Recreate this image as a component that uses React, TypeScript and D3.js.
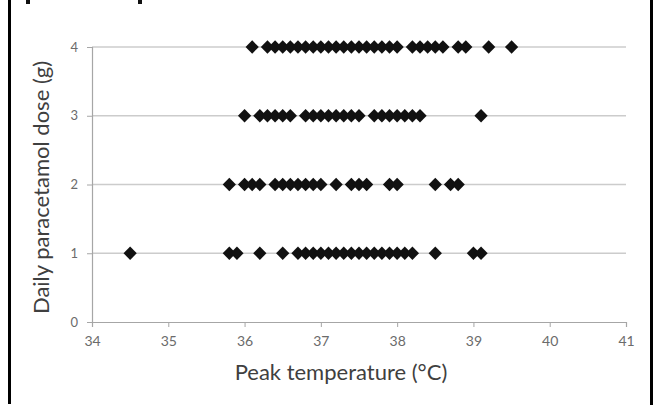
import React, { useRef, useEffect } from "react";
import * as d3 from "d3";

// peak temperature (°C) of each patient, by daily dose
const dose4 = [36.1, 36.3, 36.4, 36.5, 36.6, 36.7, 36.8, 36.9, 37.0, 37.1, 37.2, 37.3, 37.4, 37.5, 37.6, 37.7, 37.8, 37.9, 38.0, 38.2, 38.3, 38.4, 38.5, 38.6, 38.8, 38.9, 39.2, 39.5];
const dose3 = [36.0, 36.2, 36.3, 36.4, 36.5, 36.6, 36.8, 36.9, 37.0, 37.1, 37.2, 37.3, 37.4, 37.5, 37.7, 37.8, 37.9, 38.0, 38.1, 38.2, 38.3, 39.1];
const dose2 = [35.8, 36.0, 36.1, 36.2, 36.4, 36.5, 36.6, 36.7, 36.8, 36.9, 37.0, 37.2, 37.4, 37.5, 37.6, 37.9, 38.0, 38.5, 38.7, 38.8];
const dose1 = [34.5, 35.8, 35.9, 36.2, 36.5, 36.7, 36.8, 36.9, 37.0, 37.1, 37.2, 37.3, 37.4, 37.5, 37.6, 37.7, 37.8, 37.9, 38.0, 38.1, 38.2, 38.5, 39.0, 39.1];

const doses = [1, 2, 3, 4];
const series = [dose1, dose2, dose3, dose4];
const xTicks = [34, 35, 36, 37, 38, 39, 40, 41];
const yTicks = [0, 1, 2, 3, 4];

const App = () => {
  const svgRef = useRef<SVGSVGElement>(null);

  useEffect(() => {
    const width = 653;
    const height = 405;
    const margin = { top: 47, right: 27, bottom: 83, left: 92 };

    const svg = d3
      .select(svgRef.current)
      .attr("width", width)
      .attr("height", height)
      .style("position", "absolute")
      .style("left", 0)
      .style("top", 0)
      .html("");

    const font = "Lato, 'Open Sans', sans-serif";

    // frame pieces from the cropped figure
    svg.append("rect").attr("x", 8).attr("y", 0).attr("width", 3).attr("height", 404).attr("fill", "#000");
    svg.append("rect").attr("x", 650).attr("y", 0).attr("width", 3).attr("height", 405).attr("fill", "#000");
    svg.append("rect").attr("x", 26).attr("y", 0).attr("width", 4).attr("height", 4).attr("fill", "#111");
    svg.append("rect").attr("x", 138).attr("y", 0).attr("width", 4).attr("height", 4).attr("fill", "#111");

    const x = d3
      .scaleLinear()
      .domain([34, 41])
      .range([margin.left, width - margin.right]);

    const y = d3
      .scaleLinear()
      .domain([0, 4])
      .range([height - margin.bottom, margin.top]);

    // gridlines
    svg
      .append("g")
      .selectAll("line")
      .data(yTicks.filter((d) => d > 0))
      .join("line")
      .attr("x1", x(34))
      .attr("x2", x(41))
      .attr("y1", (d) => y(d))
      .attr("y2", (d) => y(d))
      .attr("stroke", "#cccccc")
      .attr("stroke-width", 1.5);

    // x axis
    const xAxis = svg
      .append("g")
      .attr("transform", `translate(0,${y(0)})`)
      .call(d3.axisBottom(x).tickValues(xTicks).tickSize(5).tickFormat(d3.format("d")));
    xAxis.select(".domain").attr("stroke", "#a6a6a6").attr("stroke-width", 1.2);
    xAxis.selectAll(".tick line").attr("stroke", "#a6a6a6");
    xAxis
      .selectAll(".tick text")
      .attr("fill", "#6b6b6b")
      .attr("font-size", 14)
      .attr("font-family", font)
      .attr("y", 10)
      .attr("dy", "1em");

    // y axis
    const yAxis = svg
      .append("g")
      .attr("transform", `translate(${x(34)},0)`)
      .call(d3.axisLeft(y).tickValues(yTicks).tickSize(5).tickFormat(d3.format("d")));
    yAxis.select(".domain").attr("stroke", "#a6a6a6").attr("stroke-width", 1.2);
    yAxis.selectAll(".tick line").attr("stroke", "#a6a6a6");
    yAxis
      .selectAll(".tick text")
      .attr("fill", "#6b6b6b")
      .attr("font-size", 13)
      .attr("font-family", font)
      .attr("x", -14);

    // diamonds
    const diamond = d3.symbol(d3.symbolSquare, 88)();
    doses.forEach((dose, i) => {
      svg
        .append("g")
        .selectAll("path")
        .data(series[i])
        .join("path")
        .attr("d", diamond)
        .attr("transform", (d) => `translate(${x(d)},${y(dose)}) rotate(45)`)
        .attr("fill", "#111");
    });

    // axis titles
    svg
      .append("text")
      .attr("x", (x(34) + x(41)) / 2 - 18)
      .attr("y", 380)
      .attr("text-anchor", "middle")
      .attr("font-family", font)
      .attr("font-size", 22)
      .attr("fill", "#3f3f3f")
      .text("Peak temperature (°C)");

    svg
      .append("text")
      .attr("transform", `translate(49,${(y(0) + y(4)) / 2 + 3}) rotate(-90)`)
      .attr("text-anchor", "middle")
      .attr("font-family", font)
      .attr("font-size", 22)
      .attr("fill", "#3f3f3f")
      .text("Daily paracetamol dose (g)");
  }, []);

  return <svg ref={svgRef} />;
};

export default App;
